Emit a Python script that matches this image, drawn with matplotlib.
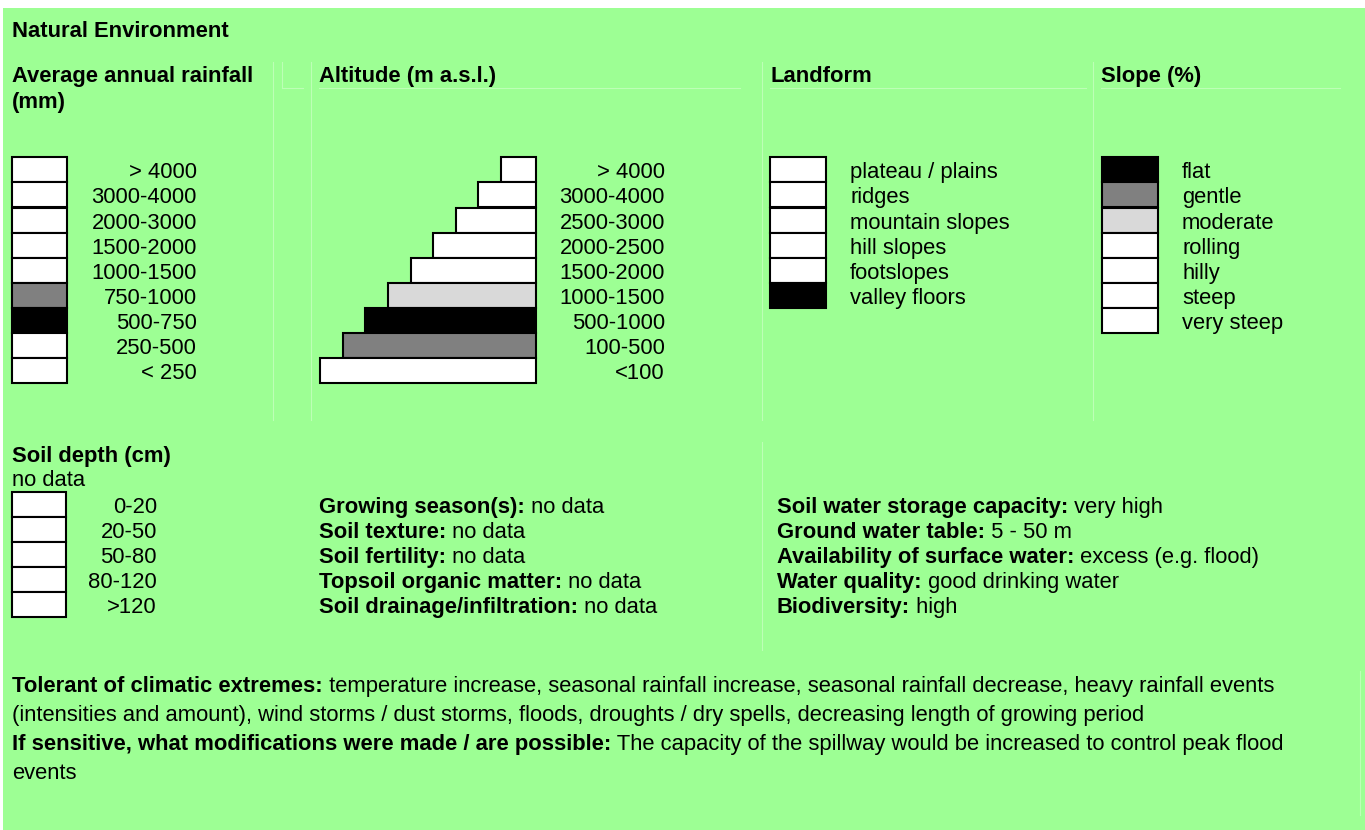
import matplotlib
matplotlib.use("Agg")
import matplotlib.pyplot as plt
from matplotlib.patches import Rectangle

plt.rcParams['font.family'] = ['Liberation Sans', 'DejaVu Sans']

# category lists and their marked state (fill colour of the swatch)
rain_labels = ["> 4000", "3000-4000", "2000-3000", "1500-2000", "1000-1500",
               "750-1000", "500-750", "250-500", "< 250"]
rain_fills = ["white", "white", "white", "white", "white",
              "#808080", "black", "white", "white"]

alt_labels = ["> 4000", "3000-4000", "2500-3000", "2000-2500", "1500-2000",
              "1000-1500", "500-1000", "100-500", "<100"]
alt_widths = [35, 58, 80, 103, 125, 148, 171, 193, 216]
alt_fills = ["white", "white", "white", "white", "white",
             "#d9d9d9", "black", "#808080", "white"]

land_labels = ["plateau / plains", "ridges", "mountain slopes", "hill slopes",
               "footslopes", "valley floors"]
land_fills = ["white", "white", "white", "white", "white", "black"]

slope_labels = ["flat", "gentle", "moderate", "rolling", "hilly", "steep",
                "very steep"]
slope_fills = ["black", "#808080", "#d9d9d9", "white", "white", "white", "white"]

soil_labels = ["0-20", "20-50", "50-80", "80-120", ">120"]
soil_fills = ["white", "white", "white", "white", "white"]

mid_keys = ["Growing season(s):", "Soil texture:", "Soil fertility:",
            "Topsoil organic matter:", "Soil drainage/infiltration:"]
mid_vals = ["no data", "no data", "no data", "no data", "no data"]

right_keys = ["Soil water storage capacity:", "Ground water table:",
              "Availability of surface water:", "Water quality:", "Biodiversity:"]
right_vals = ["very high", "5 - 50 m", "excess (e.g. flood)",
              "good drinking water", "high"]

green = "#9dff94"
fs = 15.8
row_h = 25.1
top = 157.3
base_off = 8.5

fig = plt.figure(figsize=(13.65, 8.30), dpi=100, facecolor="white")
ax = fig.add_axes([0, 0, 1, 1])
ax.set_xlim(0, 1365)
ax.set_ylim(830, 0)
ax.axis("off")
ax.add_patch(Rectangle((3, 8), 1362, 822, facecolor=green, edgecolor="none", zorder=0))

# faint table lines
faint = "#bdffb6"
for x, y0, y1 in [(273, 62, 420), (282, 62, 88), (311, 62, 420),
                  (762, 62, 420), (1093, 62, 420), (762, 442, 650),
                  (1360, 671, 815)]:
    ax.plot([x, x], [y0, y1], color=faint, lw=0.8, zorder=1)
for x0, x1 in [(282, 303), (319, 740), (770, 1086), (1101, 1340)]:
    ax.plot([x0, x1], [87.7, 87.7], color=faint, lw=0.8, zorder=1)

renderer = fig.canvas.get_renderer()


def mixed(x, y, bold, regular):
    t = ax.text(x, y, bold, fontsize=fs, weight="bold", va="baseline", ha="left")
    bb = t.get_window_extent(renderer)
    x2 = ax.transData.inverted().transform((bb.x1, bb.y0))[0]
    ax.text(x2, y, " " + regular, fontsize=fs, va="baseline", ha="left")


def centers(n, start, h):
    return [start + (i + 0.5) * h for i in range(n)]


# headers
ax.text(12, 37, "Natural Environment", fontsize=fs, weight="bold", va="baseline")
ax.text(12, 82, "Average annual rainfall", fontsize=fs, weight="bold", va="baseline")
ax.text(12, 108, "(mm)", fontsize=fs, weight="bold", va="baseline")
ax.text(319, 82, "Altitude (m a.s.l.)", fontsize=fs, weight="bold", va="baseline")
ax.text(770, 82, "Landform", fontsize=fs, weight="bold", va="baseline")
ax.text(1101, 82, "Slope (%)", fontsize=fs, weight="bold", va="baseline")

# rainfall
yc = centers(len(rain_labels), top, row_h)
ax.barh(yc, [55] * len(yc), left=12, height=row_h, color=rain_fills,
        edgecolor="black", linewidth=1.5, zorder=2)
for y, lab in zip(yc, rain_labels):
    ax.text(197, y + base_off, lab, fontsize=fs, ha="right", va="baseline")

# altitude
yc = centers(len(alt_labels), top, row_h)
ax.barh(yc, alt_widths, left=[536 - w for w in alt_widths], height=row_h,
        color=alt_fills, edgecolor="black", linewidth=1.5, zorder=2)
for y, lab in zip(yc, alt_labels):
    ax.text(665, y + base_off, lab, fontsize=fs, ha="right", va="baseline")

# landform
yc = centers(len(land_labels), top, row_h)
ax.barh(yc, [56] * len(yc), left=770, height=row_h, color=land_fills,
        edgecolor="black", linewidth=1.5, zorder=2)
for y, lab in zip(yc, land_labels):
    ax.text(850, y + base_off, lab, fontsize=fs, ha="left", va="baseline")

# slope
yc = centers(len(slope_labels), top, row_h)
ax.barh(yc, [56] * len(yc), left=1102, height=row_h, color=slope_fills,
        edgecolor="black", linewidth=1.5, zorder=2)
for y, lab in zip(yc, slope_labels):
    ax.text(1182, y + base_off, lab, fontsize=fs, ha="left", va="baseline")

# soil depth
ax.text(12, 462, "Soil depth (cm)", fontsize=fs, weight="bold", va="baseline")
ax.text(12, 486, "no data", fontsize=fs, va="baseline")
yc = centers(len(soil_labels), 492.3, 25)
ax.barh(yc, [54] * len(yc), left=12, height=25, color=soil_fills,
        edgecolor="black", linewidth=1.5, zorder=2)
for y, lab in zip(yc, soil_labels):
    ax.text(157, y + base_off, lab, fontsize=fs, ha="right", va="baseline")

for y, k, v in zip(yc, mid_keys, mid_vals):
    mixed(319, y + base_off, k, v)
for y, k, v in zip(yc, right_keys, right_vals):
    mixed(777, y + base_off, k, v)

# climate tolerance
mixed(12, 692, "Tolerant of climatic extremes:",
      "temperature increase, seasonal rainfall increase, seasonal rainfall decrease, heavy rainfall events")
ax.text(12, 721, "(intensities and amount), wind storms / dust storms, floods, droughts / dry spells, "
        "decreasing length of growing period", fontsize=fs, va="baseline")
mixed(12, 750, "If sensitive, what modifications were made / are possible:",
      "The capacity of the spillway would be increased to control peak flood")
ax.text(12, 779, "events", fontsize=fs, va="baseline")

fig.savefig("out.png", dpi=100, facecolor="white")
